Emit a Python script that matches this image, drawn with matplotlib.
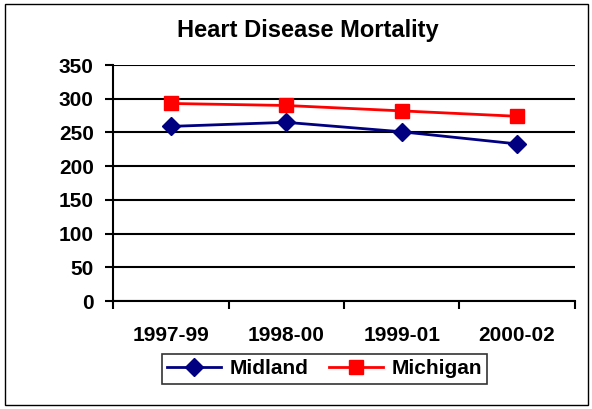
import matplotlib
matplotlib.use("Agg")
import matplotlib.pyplot as plt
from matplotlib.patches import Rectangle
import numpy as np

periods = ["1997-99", "1998-00", "1999-01", "2000-02"]
midland = [259, 265, 251, 233]
michigan = [293, 290, 282, 274]

plt.rcParams['font.family'] = ['Liberation Sans', 'DejaVu Sans']

fig = plt.figure(figsize=(5.92, 4.09), dpi=100)
ax = fig.add_axes([0.191, 0.264, 0.78, 0.577])

x = np.arange(len(periods)) + 0.5
ax.plot(x, midland, color='#000080', marker='D', markersize=9, lw=2, label='Midland')
ax.plot(x, michigan, color='#ff0000', marker='s', markersize=10, lw=2, label='Michigan')

ax.set_xlim(0, 4)
ax.set_ylim(0, 350)
ax.set_yticks(np.arange(0, 351, 50))
ax.yaxis.grid(True, color='black', lw=1.5)
ax.set_axisbelow(True)
ax.set_xticks(np.arange(0, 5))
ax.set_xticklabels([])
ax.set_xticks(x, minor=True)
ax.set_xticklabels(periods, minor=True, fontsize=15, fontweight='bold')
ax.tick_params(axis='x', which='minor', length=0, pad=18)
ax.tick_params(axis='x', which='major', length=6, width=1.5, direction='out')
ax.tick_params(axis='y', length=6, width=1.5, labelsize=15, pad=8)
for lab in ax.get_yticklabels():
    lab.set_fontweight('bold')
for s in ['top', 'right']:
    ax.spines[s].set_visible(False)
for s in ['left', 'bottom']:
    ax.spines[s].set_linewidth(1.5)

fig.text(0.52, 0.925, "Heart Disease Mortality", ha='center', va='center',
         fontsize=17, fontweight='bold')

leg = fig.legend(loc='center', bbox_to_anchor=(0.548, 0.098), ncol=2,
                 prop={'size': 15, 'weight': 'bold'}, fancybox=False,
                 edgecolor='black', handlelength=2.6, handletextpad=0.4,
                 columnspacing=1.0, borderpad=0.25)
leg.get_frame().set_linewidth(1.2)

fig.patches.append(Rectangle((0.008, 0.01), 0.985, 0.98, transform=fig.transFigure,
                             fill=False, edgecolor='black', lw=1))

fig.savefig("out.png", dpi=100)
